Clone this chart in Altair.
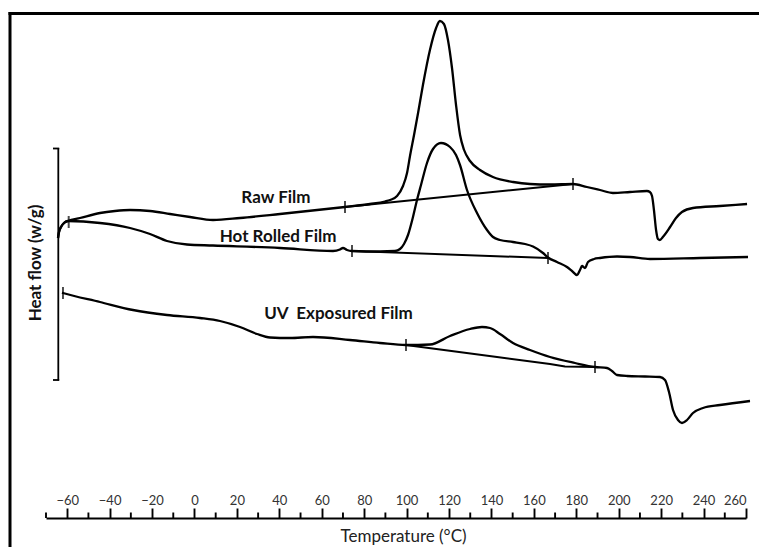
import altair as alt
import pandas as pd

# ---- DSC traces: temperature (°C) and heat flow (arbitrary units)
raw_T = [-64.34, -63.87, -62.93, -61.51, -59.63, -54.0, -44.54, -37.5, -30.4, -20.97, -11.5, -2.1, 8.73,
         21.5, 40.31, 70.96, 82.7, 89.8, 92.2, 95.5, 98.3, 100.2, 101.6, 103.5, 105.4, 107.7, 111.0, 113.9,
         115.7, 117.6, 119.5, 121.4, 123.3, 125.2, 127.1, 129.9, 134.6, 140.7, 150.2, 158.2, 167.6, 178.44,
         185.0, 191.2, 197.3, 205.3, 213.3, 214.7, 215.7, 216.6, 217.6, 218.5, 219.4, 220.8, 224.2, 227.0,
         229.8, 235.0, 247.7, 260.5]
raw_hf = [2.80, 2.86, 2.91, 2.95, 2.97, 3.00, 3.05, 3.07, 3.08, 3.07, 3.04, 3.01, 2.98,
          3.00, 3.04, 3.11, 3.14, 3.165, 3.18, 3.22, 3.32, 3.45, 3.62, 3.83, 4.05, 4.33, 4.68, 4.90,
          4.97, 4.94, 4.78, 4.50, 4.13, 3.83, 3.68, 3.57, 3.48, 3.41, 3.36, 3.34, 3.335, 3.34,
          3.31, 3.28, 3.25, 3.26, 3.27, 3.26, 3.22, 3.08, 2.88, 2.79, 2.78, 2.81, 2.91, 3.00,
          3.06, 3.10, 3.12, 3.14]

hot_T = [-64.34, -63.87, -62.93, -61.51, -59.63, -44.54, -30.4, -20.97, -12.96, -3.53, 8.73, 40.31, 65.3,
         68.6, 70.01, 71.9, 74.26, 87.46, 94.53, 96.89, 98.77, 100.66, 103.01, 104.9, 106.79, 109.61,
         112.44, 116.21, 120.46, 123.29, 125.17, 128.47, 133.19, 137.9, 140.73, 144.03, 150.16, 155.81,
         159.59, 164.3, 166.66, 170.9, 175.61, 177.97, 180.33, 181.74, 182.69, 184.1, 185.51, 188.34,
         191.17, 199.19, 205.31, 214.74, 238.31, 260.94]
hot_hf = [2.80, 2.86, 2.91, 2.95, 2.97, 2.95, 2.90, 2.84, 2.77, 2.735, 2.725, 2.70, 2.67,
          2.685, 2.70, 2.68, 2.67, 2.665, 2.67, 2.69, 2.74, 2.83, 3.01, 3.18, 3.33, 3.55,
          3.69, 3.75, 3.71, 3.63, 3.53, 3.28, 3.05, 2.88, 2.81, 2.78, 2.76, 2.74,
          2.715, 2.65, 2.605, 2.56, 2.51, 2.47, 2.43, 2.48, 2.52, 2.50, 2.56, 2.59,
          2.60, 2.615, 2.61, 2.59, 2.60, 2.61]

uv_T = [-62.46, -61.99, -44.54, -28.99, -12.96, 2.6, 12.03, 21.46, 29.47, 35.6, 45.03, 55.87, 73.31,
        87.46, 99.71, 111.03, 120.46, 129.89, 135.54, 139.31, 144.03, 150.16, 158.17, 167.6, 179.39,
        188.81, 194.47, 196.83, 199.19, 203.91, 212.39, 219.46, 221.81, 223.7, 225.59, 227.94, 229.83,
        232.19, 235.01, 239.73, 247.74, 261.89]
uv_hf = [2.253, 2.25, 2.16, 2.08, 2.03, 2.00, 1.97, 1.91, 1.84, 1.805, 1.80, 1.81, 1.78,
         1.75, 1.73, 1.735, 1.82, 1.89, 1.91, 1.90, 1.84, 1.75, 1.68, 1.61, 1.55,
         1.51, 1.50, 1.47, 1.43, 1.42, 1.415, 1.41, 1.38, 1.26, 1.08, 0.98, 0.95,
         0.98, 1.05, 1.10, 1.13, 1.17]

# ---- Construction baselines (integration limits)
raw_base_T = [70.96, 178.44]
raw_base_hf = [3.11, 3.34]
hot_base_T = [74.26, 166.66]
hot_base_hf = [2.67, 2.60]
uv_base_T = [99.71, 142.61, 167.6, 174.67, 188.81]
uv_base_hf = [1.73, 1.61, 1.54, 1.515, 1.51]

# ---- Limit marks on the traces
mark_T = [-59.3, -62.0, 70.96, 178.44, 74.26, 166.66, 99.71, 188.81]
mark_hf = [2.96, 2.25, 3.11, 3.34, 2.67, 2.60, 1.73, 1.51]

# ---- Trace labels (baseline anchor)
label_text = ["Raw Film", "Hot Rolled Film", "UV\u00a0 Exposured Film"]
label_T = [38.4, 39.4, 67.9]
label_hf = [3.147, 2.763, 1.995]

major_ticks = list(range(-60, 261, 20))
minor_ticks = list(range(-70, 251, 20))

W, H = 700, 505


def frame(name, T, hf):
    return pd.DataFrame({"T": T, "hf": hf, "series": name, "idx": range(len(T))})


curves = pd.concat([frame("Raw Film", raw_T, raw_hf),
                    frame("Hot Rolled Film", hot_T, hot_hf),
                    frame("UV Exposured Film", uv_T, uv_hf)])
bases = pd.concat([frame("Raw Film", raw_base_T, raw_base_hf),
                   frame("Hot Rolled Film", hot_base_T, hot_base_hf),
                   frame("UV Exposured Film", uv_base_T, uv_base_hf)])
marks = pd.DataFrame({"T": mark_T, "hf": mark_hf})
labels = pd.DataFrame({"T": label_T, "hf": label_hf, "text": label_text})
minors = pd.DataFrame({"T": minor_ticks})
one = pd.DataFrame({"k": [0]})

xscale = alt.Scale(domain=[-70, 260], nice=False, zero=False)
yscale = alt.Scale(domain=[0, 5.05], nice=False, zero=False)
xaxis = alt.Axis(orient="top", offset=-H, values=major_ticks, tickSize=10, tickWidth=1.9,
                 tickColor="black", domainColor="black", domainWidth=2.2, grid=False,
                 labelFont="Lato", labelFontSize=13, labelColor="#333", labelPadding=1,
                 title="Temperature (°C)", titleFont="Lato", titleFontSize=17,
                 titleFontWeight="normal", titleColor="#222", titleBaseline="middle",
                 titleX=357, titleY=18)
xenc = alt.X("T:Q", scale=xscale, axis=xaxis)
yenc = alt.Y("hf:Q", scale=yscale, axis=None)

curve_layer = alt.Chart(curves).mark_line(interpolate="monotone", color="black", strokeWidth=2.3).encode(
    x=xenc, y=yenc, detail="series:N", order="idx:Q")
base_layer = alt.Chart(bases).mark_line(color="black", strokeWidth=2.0).encode(
    x=xenc, y=yenc, detail="series:N", order="idx:Q")
mark_layer = alt.Chart(marks).mark_tick(orient="vertical", size=12, thickness=2, color="black").encode(
    x=xenc, y=yenc)
label_layer = alt.Chart(labels).mark_text(font="Lato", fontSize=17, fontWeight="bold", color="#111",
                                           baseline="alphabetic", align="center").encode(
    x=xenc, y=yenc, text="text:N")
minor_layer = alt.Chart(minors).mark_rule(color="black", strokeWidth=1.9).encode(
    x=xenc, y=alt.value(H), y2=alt.value(H - 5.5))

bracket = alt.Chart(one).mark_rule(color="black", strokeWidth=1.8).encode(
    x=alt.value(12.3), y=alt.value(135), y2=alt.value(367.5))
cap_top = alt.Chart(one).mark_rule(color="black", strokeWidth=1.8).encode(
    x=alt.value(7), x2=alt.value(13.2), y=alt.value(135.5))
cap_bot = alt.Chart(one).mark_rule(color="black", strokeWidth=1.8).encode(
    x=alt.value(7), x2=alt.value(13.2), y=alt.value(367))
ytitle = alt.Chart(one).mark_text(text="Heat flow (w/g)", angle=270, font="Lato", fontSize=17,
                                  fontWeight="bold", color="#111", align="center",
                                  baseline="middle").encode(x=alt.value(-10), y=alt.value(250))

border_left = alt.Chart(one).mark_rule(color="black", strokeWidth=3).encode(
    x=alt.value(-36), y=alt.value(-1), y2=alt.value(560))
border_top = alt.Chart(one).mark_rule(color="black", strokeWidth=3).encode(
    x=alt.value(-37.5), x2=alt.value(740), y=alt.value(0.5))

chart = alt.layer(
    curve_layer, base_layer, mark_layer, label_layer, minor_layer,
    bracket, cap_top, cap_bot, ytitle, border_left, border_top
).properties(
    width=W, height=H,
    autosize=alt.AutoSizeParams(type="none"),
    padding={"left": 38, "top": 5, "right": 13, "bottom": 29},
    background="white",
).configure_view(stroke=None)

chart.save("out.html", embed_options={"renderer": "svg", "actions": False})
